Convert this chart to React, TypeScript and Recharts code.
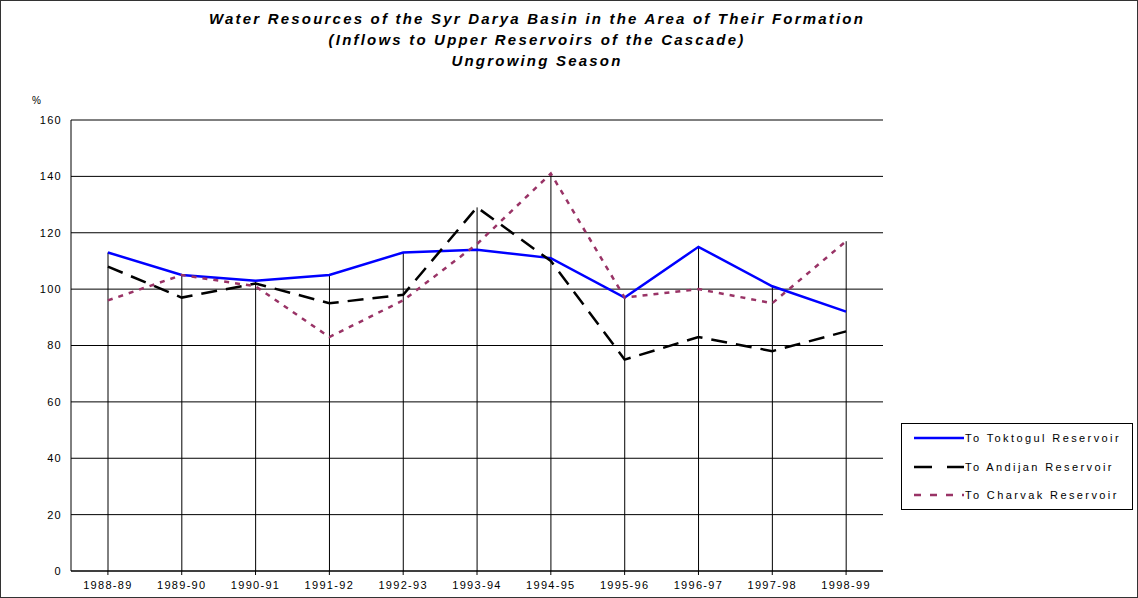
import React from 'react';
import {
  ComposedChart,
  Line,
  Bar,
  XAxis,
  YAxis,
  CartesianGrid,
} from 'recharts';

const seasons = [
  '1988-89', '1989-90', '1990-91', '1991-92', '1992-93', '1993-94',
  '1994-95', '1995-96', '1996-97', '1997-98', '1998-99',
];
const toktogul = [113, 105, 103, 105, 113, 114, 111, 97, 115, 101, 92];
const andijan = [108, 97, 102, 95, 98, 129, 110, 75, 83, 78, 85];
const charvak = [96, 105, 101, 83, 96, 116, 141, 97, 100, 95, 117];
const yTicks = [0, 20, 40, 60, 80, 100, 120, 140, 160];

const titleLines = [
  'Water Resources of the Syr Darya Basin in the Area of Their Formation',
  '(Inflows to Upper Reservoirs of the Cascade)',
  'Ungrowing Season',
];

const series = [
  { key: 'toktogul', name: 'To Toktogul Reservoir', color: '#0000ff', dash: undefined, legendDash: undefined },
  { key: 'andijan', name: 'To Andijan Reservoir', color: '#000000', dash: '16 9', legendDash: '18 15' },
  { key: 'charvak', name: 'To Charvak Reservoir', color: '#993366', dash: '5 6', legendDash: '7 9' },
];

const data = seasons.map((s, i) => ({
  season: s,
  toktogul: toktogul[i],
  andijan: andijan[i],
  charvak: charvak[i],
  top: Math.max(toktogul[i], andijan[i], charvak[i]),
}));

const FONT = '"Liberation Sans", Arial, sans-serif';

// vertical drop line from 0 up to the highest of the three series
const DropLine = (props: any) => {
  const { x, y, width, height } = props;
  if (height == null) return null;
  const cx = x + width / 2;
  return <line x1={cx} x2={cx} y1={y} y2={y + height} stroke='#000' strokeWidth={1} />;
};

export default function App() {
  return (
    <div
      style={{
        position: 'fixed',
        left: 0,
        top: 0,
        width: 1138,
        height: 598,
        border: '1px solid #333',
        boxSizing: 'border-box',
        background: '#fff',
        fontFamily: FONT,
      }}
    >
      {titleLines.map((t, i) => (
        <div
          key={i}
          style={{
            position: 'absolute',
            left: 0,
            width: 1072,
            top: 9 + i * 21,
            textAlign: 'center',
            fontSize: 15,
            fontWeight: 'bold',
            fontStyle: 'italic',
            letterSpacing: 2.2,
            lineHeight: '18px',
          }}
        >
          {t}
        </div>
      ))}
      <div style={{ position: 'absolute', left: 31, top: 94, fontSize: 10 }}>%</div>

      <ComposedChart
        width={1136}
        height={596}
        data={data}
        margin={{ top: 119, right: 254, left: 0, bottom: 0 }}
      >
        <CartesianGrid vertical={false} stroke='#000' strokeWidth={1} />
        <XAxis
          dataKey='season'
          height={26}
          stroke='#000'
          tickSize={4}
          tickMargin={6}
          tick={{ fontSize: 11, fill: '#000', letterSpacing: 1.3, fontFamily: FONT }}
        />
        <YAxis
          domain={[0, 160]}
          ticks={yTicks}
          width={70}
          tickLine={false}
          tickSize={0}
          tickMargin={9}
          stroke='#000'
          tick={{ fontSize: 11, fill: '#000', letterSpacing: 1.3, fontFamily: FONT }}
        />
        <YAxis
          yAxisId='right'
          orientation='right'
          domain={[0, 160]}
          width={0}
          tick={false}
          tickLine={false}
          stroke='#333'
        />
        <Bar dataKey='top' barSize={2} shape={DropLine} isAnimationActive={false} />
        {series.map((s) => (
          <Line
            key={s.key}
            dataKey={s.key}
            name={s.name}
            type='linear'
            stroke={s.color}
            strokeWidth={2.5}
            strokeDasharray={s.dash}
            dot={false}
            activeDot={false}
            isAnimationActive={false}
          />
        ))}
      </ComposedChart>

      <div
        style={{
          position: 'absolute',
          left: 900,
          top: 422,
          width: 232,
          height: 87,
          border: '1px solid #000',
          boxSizing: 'border-box',
          fontSize: 11,
          letterSpacing: 2.4,
        }}
      >
        {series.map((s, i) => (
          <div
            key={s.key}
            style={{ position: 'absolute', left: 12, top: 6 + i * 28.5, display: 'flex', alignItems: 'center' }}
          >
            <svg width={50} height={16}>
              <line
                x1={0}
                x2={50}
                y1={8}
                y2={8}
                stroke={s.color}
                strokeWidth={2.5}
                strokeDasharray={s.legendDash}
              />
            </svg>
            <span style={{ marginLeft: 1, whiteSpace: 'nowrap' }}>{s.name}</span>
          </div>
        ))}
      </div>
    </div>
  );
}
